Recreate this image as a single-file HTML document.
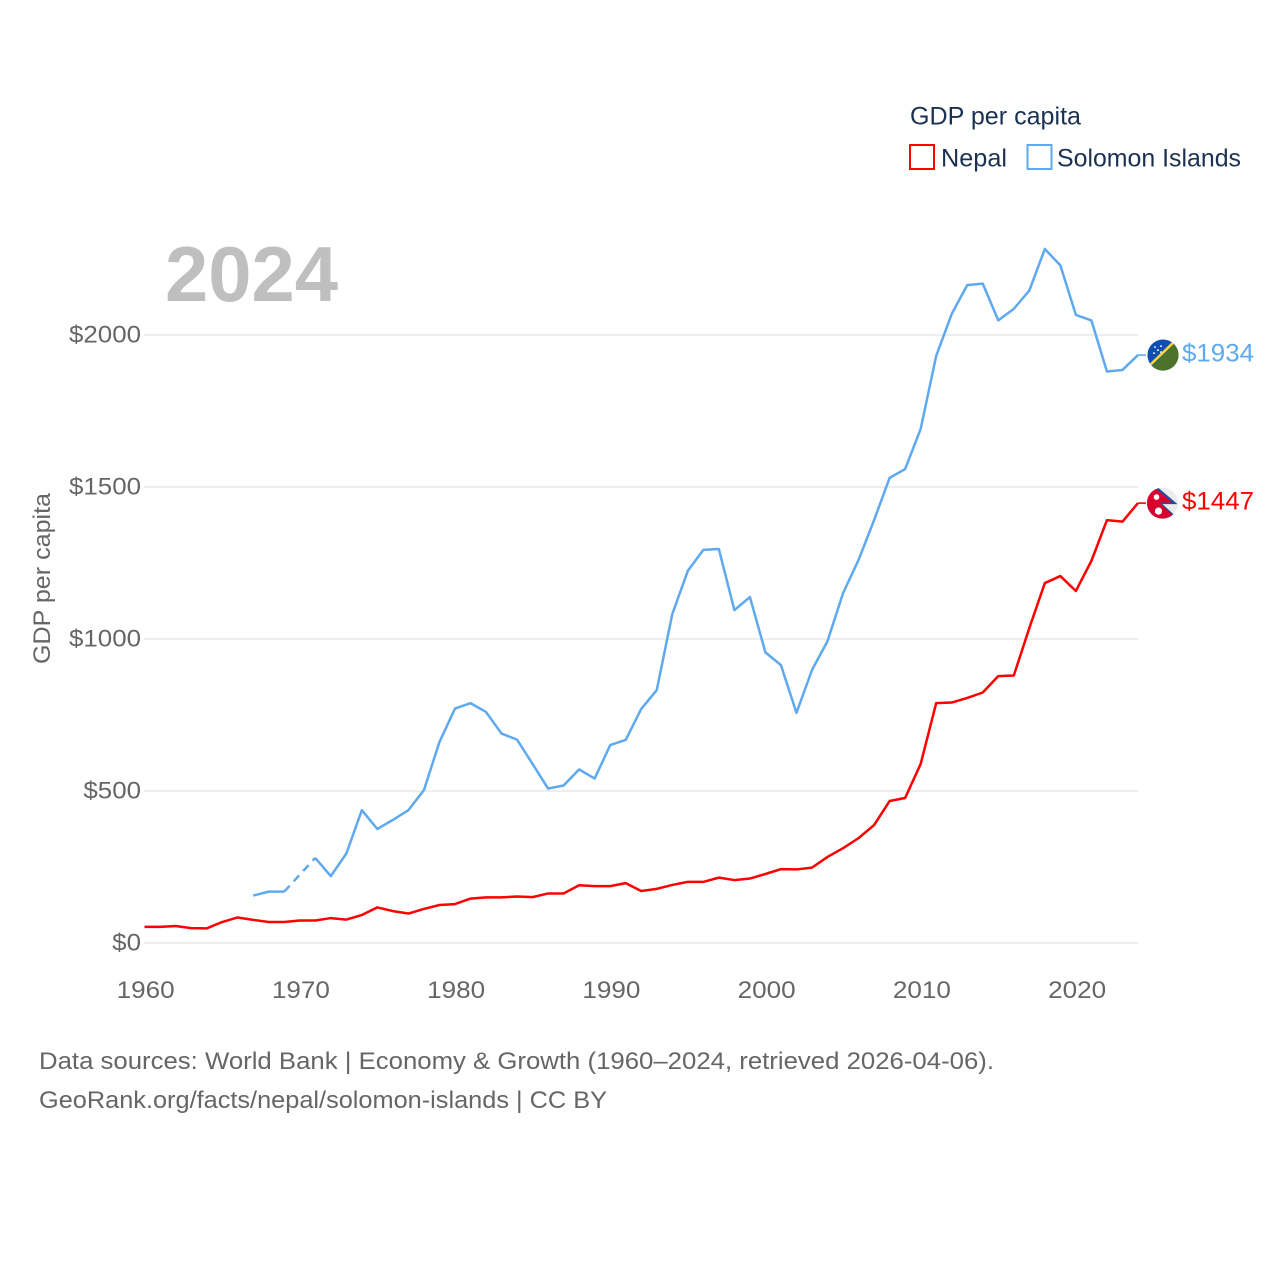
<!DOCTYPE html>
<html lang="en">
<head>
<meta charset="utf-8">
<title>GDP per capita: Nepal and Solomon Islands</title>
<style>
html,body{margin:0;padding:0;background:#fff;width:1280px;height:1280px;overflow:hidden}
svg{display:block}
text{font-family:"Liberation Sans",sans-serif}
</style>
</head>
<body>
<svg id="chart" width="1280" height="1280" viewBox="0 0 1280 1280" xmlns="http://www.w3.org/2000/svg">
  <defs>
    <clipPath id="flag-clip"><circle cx="0" cy="0" r="15.5"></circle></clipPath>
  </defs>
  <g id="grid"></g>
  <g id="yticks"></g>
  <g id="xticks"></g>
  <g id="series"></g>

  <text x="165" y="301" font-size="78" font-weight="700" fill="#bfbfbf" textLength="173" lengthAdjust="spacingAndGlyphs">2024</text>
  <text transform="translate(50 664) rotate(-90)" font-size="24" fill="#666666" textLength="171" lengthAdjust="spacingAndGlyphs">GDP per capita</text>

  <g>
    <text x="910" y="124.5" font-size="25" fill="#1a3152" textLength="171" lengthAdjust="spacingAndGlyphs">GDP per capita</text>
    <rect x="910" y="145" width="24" height="24" fill="none" stroke="#ff0000" stroke-width="2"></rect>
    <text x="941" y="166.5" font-size="25" fill="#1a3152" textLength="66" lengthAdjust="spacingAndGlyphs">Nepal</text>
    <rect x="1027.5" y="145" width="24" height="24" fill="none" stroke="#5ea9ef" stroke-width="2"></rect>
    <text x="1057" y="166.5" font-size="25" fill="#1a3152" textLength="184" lengthAdjust="spacingAndGlyphs">Solomon Islands</text>
  </g>

  <g>
    <text x="39" y="1069" font-size="24" fill="#666666" textLength="955" lengthAdjust="spacingAndGlyphs">Data sources: World Bank | Economy &amp; Growth (1960–2024, retrieved 2026-04-06).</text>
    <text x="39" y="1108" font-size="24" fill="#666666" textLength="568" lengthAdjust="spacingAndGlyphs">GeoRank.org/facts/nepal/solomon-islands | CC BY</text>
  </g>

  <g id="flag-solomon">
    <g clip-path="url(#flag-clip)">
      <rect x="-16" y="-16" width="32" height="32" fill="#215b33"></rect>
      <polygon points="-16,-16 16,-16 -16,16" fill="#0f4fb4"></polygon>
      <polygon points="-16,16 16,-16 16,16" fill="#4d7229"></polygon>
      <line x1="-16" y1="13" x2="14" y2="-16" stroke="#fcd535" stroke-width="2.6"></line>
      <circle cx="-8" cy="-8" r="1" fill="#dfe8f5"></circle>
      <circle cx="-2" cy="-9" r="1" fill="#dfe8f5"></circle>
      <circle cx="-5" cy="-5" r="1" fill="#dfe8f5"></circle>
      <circle cx="-9" cy="-2" r="1" fill="#dfe8f5"></circle>
      <circle cx="-2" cy="-3" r="1" fill="#dfe8f5"></circle>
    </g>
  </g>
  <g id="flag-nepal">
    <g clip-path="url(#flag-clip)">
      <rect x="-16" y="-16" width="32" height="32" fill="#ececec"></rect>
      <polygon points="-17,-18 -5,-16 15,1 0,1 13,13 2,18 -17,18" fill="#1d4f9c"></polygon>
      <polygon points="-17,-18 -6,-14 10,-0.5 -3,-0.5 11,13 0,17 -17,17" fill="#d8002f"></polygon>
      <circle cx="-6" cy="-6" r="2.8" fill="#fff"></circle>
      <circle cx="-4" cy="8" r="3.6" fill="#fff"></circle>
    </g>
  </g>
  <text id="value-solomon" font-size="25" fill="#5ea9ef" textLength="72" lengthAdjust="spacingAndGlyphs"></text>
  <text id="value-nepal" font-size="25" fill="#ff0000" textLength="72" lengthAdjust="spacingAndGlyphs"></text>
</svg>
<script>
const firstYear = 1960;
const lastYear = 2024;
const yTicks = [0, 500, 1000, 1500, 2000];
const xTicks = [1960, 1970, 1980, 1990, 2000, 2010, 2020];
const nepalValues = [53,53,56,49,48,69,84,76,69,69,74,74,82,77,92,117,105,97,112,125,128,146,150,150,153,151,163,163,190,187,187,197,171,178,191,201,201,215,207,212,227,243,242,248,283,312,345,388,467,477,589,789,791,806,824,878,880,1036,1184,1207,1158,1257,1391,1386,1447];
const solomonValues = [null,null,null,null,null,null,null,156,169,169,null,280,220,294,437,375,405,437,503,661,771,789,760,689,669,589,508,518,571,541,651,668,770,832,1082,1224,1293,1296,1095,1138,956,914,757,898,993,1151,1260,1391,1530,1559,1691,1931,2069,2164,2169,2048,2086,2146,2283,2229,2066,2048,1880,1885,1934];

const NS = 'http://www.w3.org/2000/svg';
const xScale = function (year) { return 144.5 + (year - 1960) * 15.523; };
const yScale = function (value) { return 943 - value * 0.304; };

function make(tag, parent, attrs, text) {
  const el = document.createElementNS(NS, tag);
  for (const k in attrs) el.setAttribute(k, attrs[k]);
  if (text !== undefined) el.textContent = text;
  parent.appendChild(el);
  return el;
}

const grid = document.getElementById('grid');
const yGroup = document.getElementById('yticks');
const xGroup = document.getElementById('xticks');
const seriesGroup = document.getElementById('series');

yTicks.forEach(function (v) {
  const line = make('line', grid, {x1: xScale(firstYear), x2: xScale(lastYear), y1: yScale(v), y2: yScale(v), stroke: '#eeeeee', 'stroke-width': 2});
  
  
  const s = '$' + v;
  const label = make('text', yGroup, {x: 141, y: yScale(v) + 7.5, 'text-anchor': 'end', 'font-size': 24, fill: '#666666', textLength: s.length * 14.4, lengthAdjust: 'spacingAndGlyphs'}, s);
  
  
});

xTicks.forEach(function (t) {
  const label = make('text', xGroup, {x: xScale(t) + 1.2, y: 998, 'text-anchor': 'middle', 'font-size': 24, fill: '#666666', textLength: 58, lengthAdjust: 'spacingAndGlyphs'}, String(t));
  
  
});

function drawSeries(values, color, name) {
  let current = [];
  let lastPt = null;
  function flush() {
    if (current.length > 1) {
      const pl = make('polyline', seriesGroup, {points: current.join(' '), fill: 'none', stroke: color, 'stroke-width': 2.5, 'stroke-linejoin': 'round'});
      
      
    }
    current = [];
  }
  values.forEach(function (v, i) {
    if (v === null) { flush(); return; }
    const px = xScale(firstYear + i);
    const py = yScale(v);
    if (lastPt && lastPt.i !== i - 1) {
      const gap = make('line', seriesGroup, {x1: lastPt.x, y1: lastPt.y, x2: px, y2: py, stroke: color, 'stroke-width': 2.5, 'stroke-dasharray': '8 6'});
      
      
    }
    current.push(px + ',' + py);
    lastPt = {i: i, x: px, y: py};
  });
  flush();
  const lead = make('line', seriesGroup, {x1: lastPt.x, y1: lastPt.y, x2: lastPt.x + 8, y2: lastPt.y, stroke: color, 'stroke-width': 1.6});
  
  
  return lastPt;
}

const nepalEnd = drawSeries(nepalValues, '#ff0000', 'nepal');
const solomonEnd = drawSeries(solomonValues, '#5ea9ef', 'solomon-islands');

document.getElementById('flag-solomon').setAttribute('transform', 'translate(1163 ' + solomonEnd.y + ')');
document.getElementById('flag-nepal').setAttribute('transform', 'translate(1162.5 ' + nepalEnd.y + ')');

const vs = document.getElementById('value-solomon');
vs.setAttribute('x', 1182);
vs.setAttribute('y', solomonEnd.y + 6.5);
vs.textContent = '$' + solomonValues[solomonValues.length - 1];
const vn = document.getElementById('value-nepal');
vn.setAttribute('x', 1182);
vn.setAttribute('y', nepalEnd.y + 6.5);
vn.textContent = '$' + nepalValues[nepalValues.length - 1];
</script>
</body>
</html>
